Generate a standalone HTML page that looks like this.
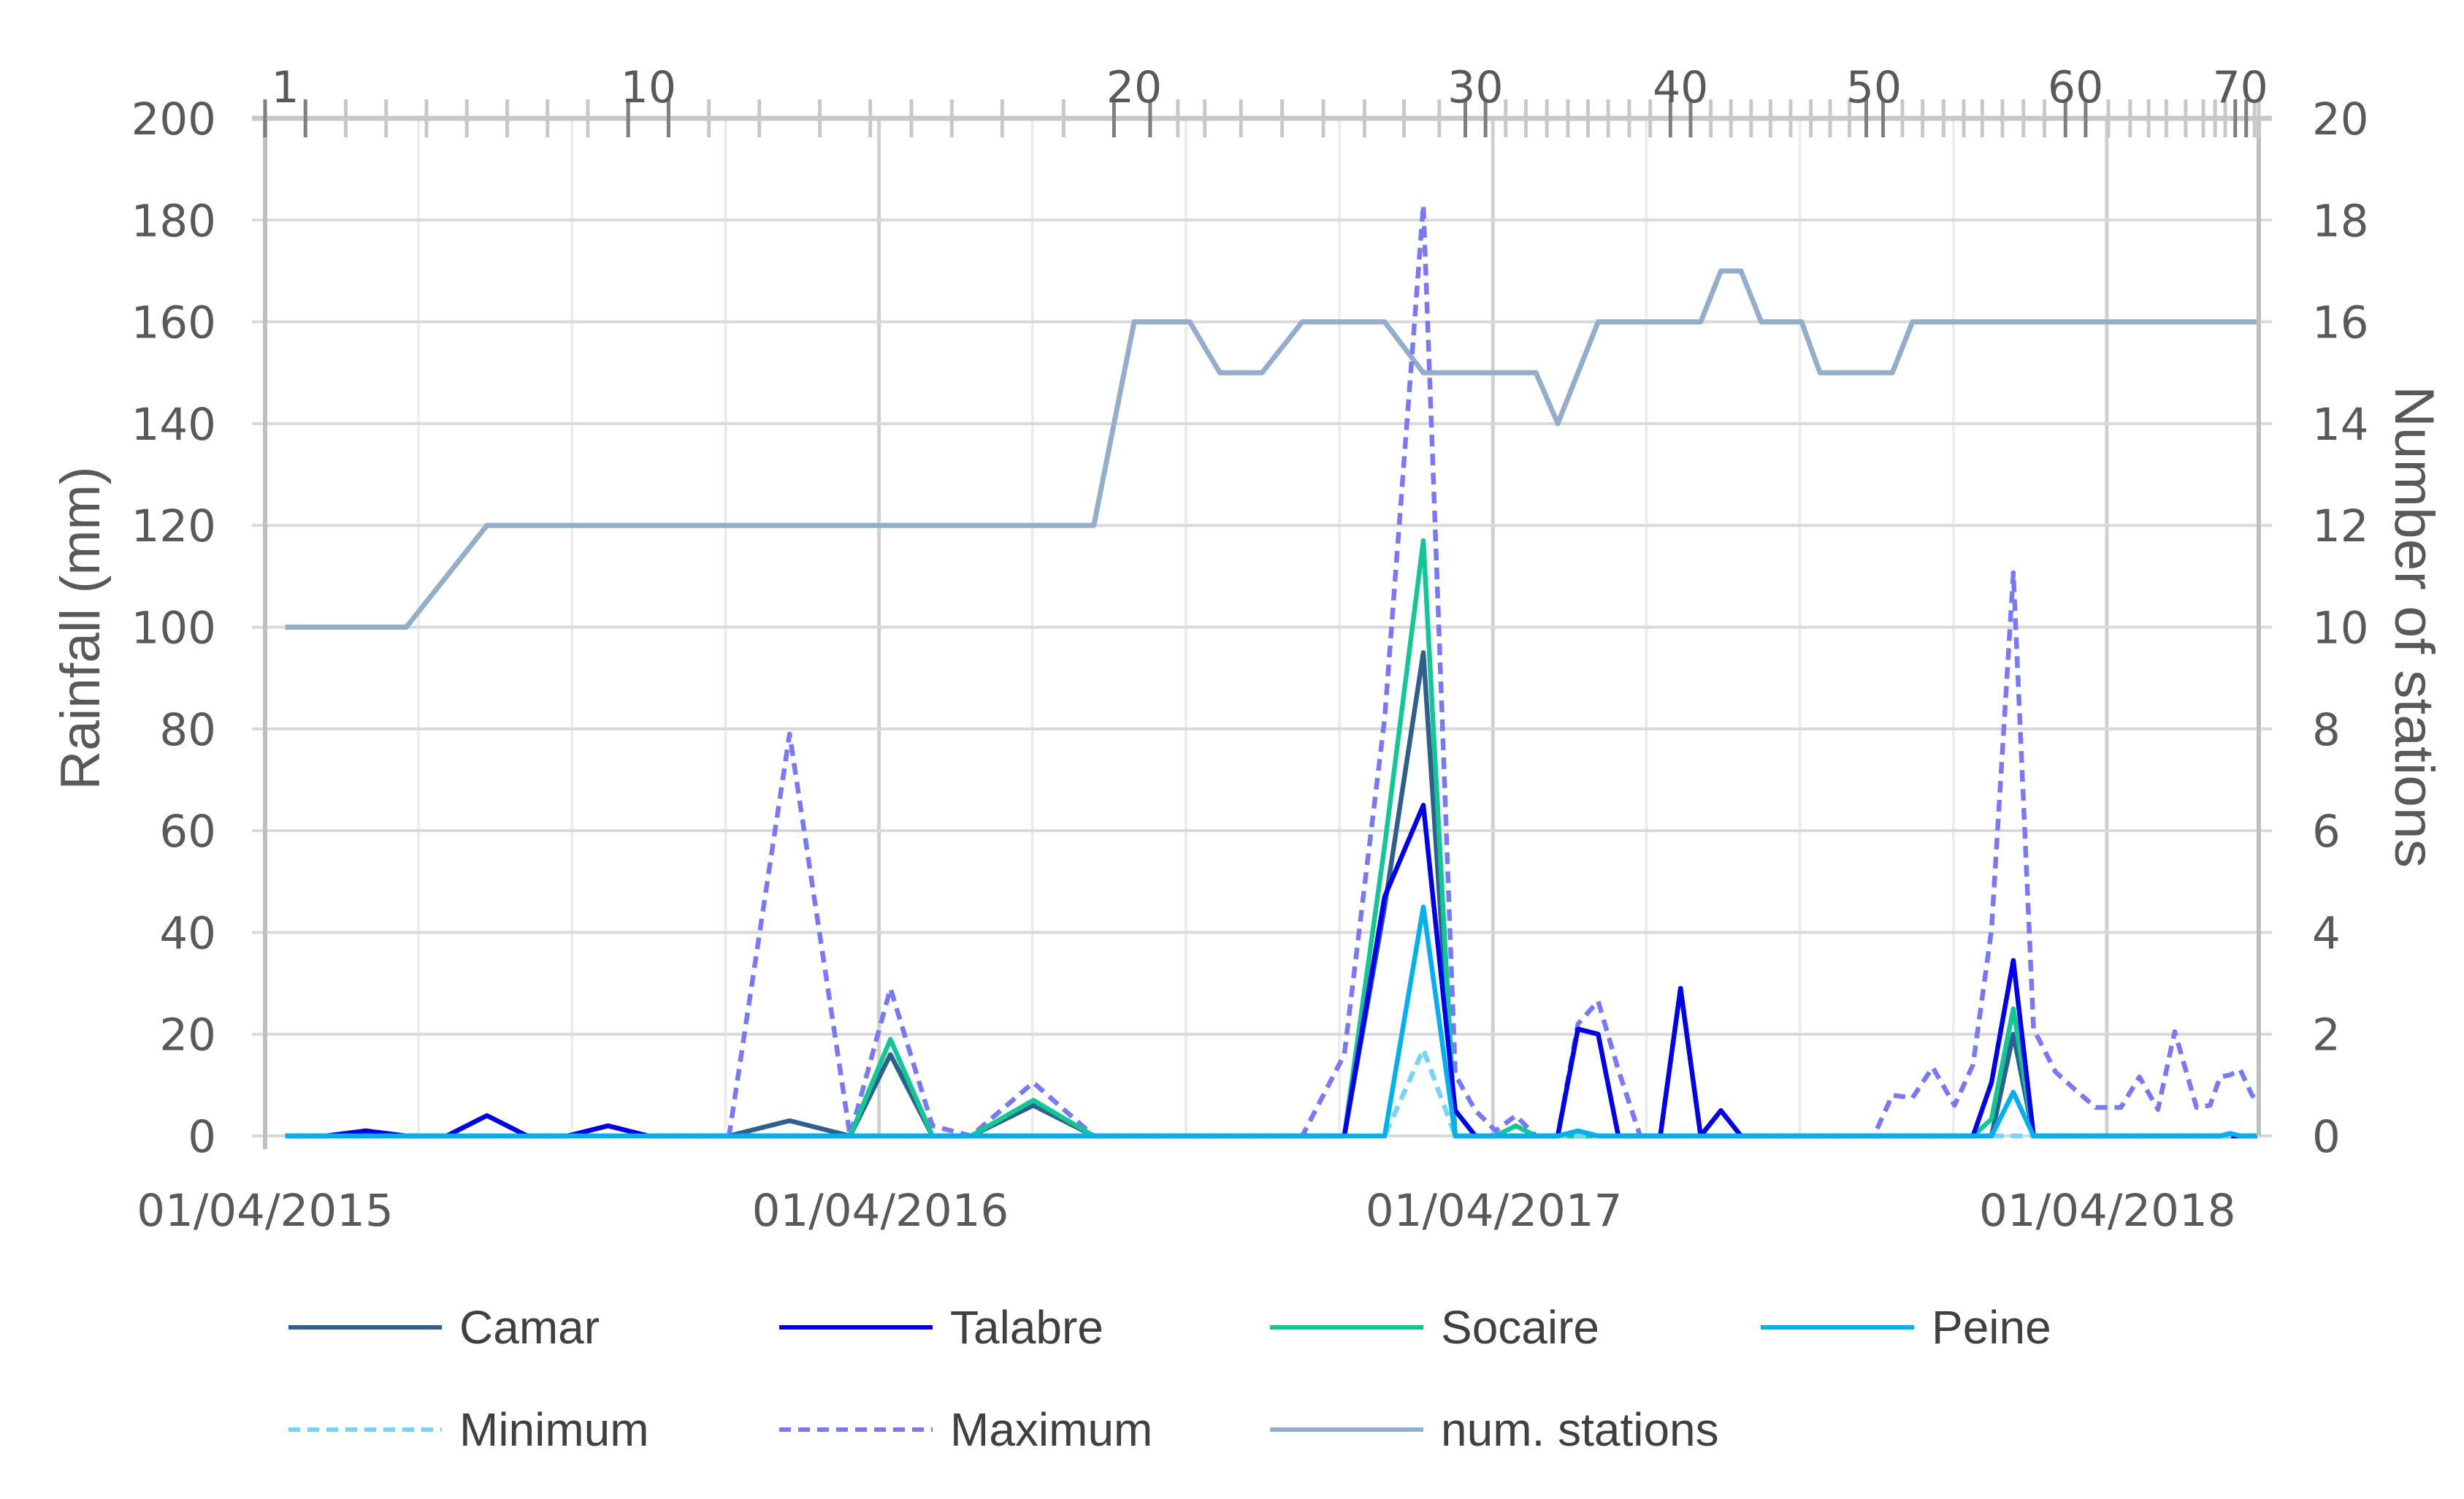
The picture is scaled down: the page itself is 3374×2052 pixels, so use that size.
<!DOCTYPE html>
<html><head><meta charset="utf-8"><title>Rainfall chart</title>
<style>
html,body{margin:0;padding:0;background:#fff;}
svg{display:block;}
text{font-family:"DejaVu Sans","Liberation Sans",sans-serif;fill:#595959;}
.ttl{font-family:"Liberation Sans",sans-serif;}
.leg{font-family:"Liberation Sans",sans-serif;font-size:64px;fill:#404040;}
</style></head>
<body>
<svg id="chart" width="3374" height="2052" viewBox="0 0 3374 2052" xmlns="http://www.w3.org/2000/svg">
<g id="grid"></g>
<g id="series"></g>
<g id="axes"></g>
<text class="ttl" x="0" y="0" font-size="76" text-anchor="middle" textLength="443" lengthAdjust="spacingAndGlyphs" transform="translate(136,860) rotate(-90)">Rainfall (mm)</text>
<text class="ttl" x="0" y="0" font-size="76" text-anchor="middle" textLength="660" lengthAdjust="spacingAndGlyphs" transform="translate(3280,858) rotate(90)">Number of  stations</text>
<g id="legend"></g>
</svg>
<script>
// ---- data ----
const days = [12,36,60,84,108,132,156,180,204,228,252,276,312,348,372,397,420,457,493,517,536,550,568,593,617,642,666,689,708,720,732,744,756,769,781,793,805,818,830,842,854,866,878,890,901,914,925,937,948,957,968,980,992,1005,1016,1027,1040,1052,1065,1077,1089,1104,1115,1126,1136,1149,1157,1163,1169,1175,1182,1185];
const camar   = [0,0,0,0,0,0,0,0,2,0,0,0,3,0,16,0,0,6,0,0,0,0,0,0,0,0,45,95,0,0,0,0,0,0,0,0,0,0,0,0,0,0,0,0,0,0,0,0,0,0,0,0,0,0,0,0,20,0,0,0,0,0,0,0,0,0,0,0,0,0,0,0];
const talabre = [0,0,1,0,0,4,0,0,2,0,0,0,0,0,0,0,0,0,0,0,0,0,0,0,0,0,47,65,5,0,0,0,0,0,21,20,0,0,0,29,0,5,0,0,0,0,0,0,0,0,0,0,0,0,0,10.5,34.5,0,0,0,0,0,0,0,0,0,0,0,0,0,0,0];
const socaire = [0,0,0,0,0,0,0,0,0,0,0,0,0,0,19,0,0,7,0,0,0,0,0,0,0,0,57,117,0,0,0,2,0,0,0,0,0,0,0,0,0,0,0,0,0,0,0,0,0,0,0,0,0,0,0,3.3,25,0,0,0,0,0,0,0,0,0,0,0,0,0,0,0];
const peine   = [0,0,0,0,0,0,0,0,0,0,0,0,0,0,0,0,0,0,0,0,0,0,0,0,0,0,0,45,0,0,0,0,0,0,1,0,0,0,0,0,0,0,0,0,0,0,0,0,0,0,0,0,0,0,0,0,8.6,0,0,0,0,0,0,0,0,0,0,0,0.5,0,0,0];
const minimum = [0,0,0,0,0,0,0,0,0,0,0,0,0,0,0,0,0,0,0,0,0,0,0,0,0,0,0,17,0,0,0,0,0,0,0,0,0,0,0,0,0,0,0,0,0,0,0,0,0,0,0,0,0,0,0,0,0,0,0,0,0,0,0,0,0,0,0,0,0,0,0,0];
const maximum = [0,0,1,0,0,4,0,0,2,0,0,0,79,0,29,2,0,10.5,0,0,0,0,0,0,0,16,82,183,12,5,1,4,0,0,22,26.5,13,0,0,29,0,5,0,0,0,0,0,0,0,0,8,7.5,13.5,6,14,40.5,110.7,21,12.6,9,5.6,5.6,11.6,5.2,20.5,5.6,6,11.6,12,13,8,7];
const stations= [10,10,10,10,11,12,12,12,12,12,12,12,12,12,12,12,12,12,12,16,16,16,15,15,16,16,16,15,15,15,15,15,15,14,15,16,16,16,16,16,16,17,17,16,16,16,15,15,15,15,15,16,16,16,16,16,16,16,16,16,16,16,16,16,16,16,16,16,16,16,16,16];
const yTicks = [0,20,40,60,80,100,120,140,160,180,200];
const y2Ticks = [0,2,4,6,8,10,12,14,16,18,20];
const dateLabels = ["01/04/2015","01/04/2016","01/04/2017","01/04/2018"];
const dateDays = [0,366,731,1096];
const topLabels = [1,10,20,30,40,50,60,70];

// ---- scales ----
const L=363,R=3093,T=162,B=1555,D0=0,D1=1186;
const x = d => L + (d-D0)/(D1-D0)*(R-L);
const y = v => B - v/200*(B-T);
const y2 = v => B - v/20*(B-T);
const NS="http://www.w3.org/2000/svg";
function mk(tag, attrs, parent){const e=document.createElementNS(NS,tag);for(const k in attrs)e.setAttribute(k,attrs[k]);parent.appendChild(e);return e;}
const grid=document.getElementById('grid'), axes=document.getElementById('axes'), ser=document.getElementById('series'), leg=document.getElementById('legend');

for(let q=1;q*91.3<D1-5;q++){
  const d=q*91.3; const major=(q%4===0);
  const g=mk('line',{x1:x(d),x2:x(d),y1:T,y2:B,stroke:major?'#d0d0d0':'#ececec','stroke-width':major?5:4},grid);
  
  
}
yTicks.forEach((v,i)=>{
  const g=mk('line',{x1:L-18,x2:R+18,y1:y(v),y2:y(v),stroke:'#d9d9d9','stroke-width':4},grid);
  
  
  const t=mk('text',{x:296,y:y(v)+22,'font-size':61,'text-anchor':'end'},axes);
  t.textContent=v;
  
  
  const t2=mk('text',{x:3166,y:y2(y2Ticks[i])+22,'font-size':61,'text-anchor':'start'},axes);
  t2.textContent=y2Ticks[i];
  
  
});
let a=mk('line',{x1:L,x2:L,y1:T,y2:B+18,stroke:'#bfbfbf','stroke-width':6},axes);

a=mk('line',{x1:R,x2:R,y1:T,y2:B,stroke:'#bfbfbf','stroke-width':6},axes);

a=mk('line',{x1:L-18,x2:R+18,y1:T,y2:T,stroke:'#c8c8c8','stroke-width':7},axes);

dateLabels.forEach((s,i)=>{
  const t=mk('text',{x:x(dateDays[i]),y:1678,'font-size':61,'text-anchor':'middle'},axes);
  t.textContent=s;
  
  
});
const bounds=[];
for(let i=0;i<=days.length;i++){
  let d;
  if(i===0)d=days[0]-(days[1]-days[0])/2;
  else if(i===days.length)d=Math.min(D1,days[i-1]+(days[i-1]-days[i-2])/2);
  else d=(days[i-1]+days[i])/2;
  bounds.push(d);
}
bounds.forEach((d,i)=>{
  const dark = topLabels.includes(i) || topLabels.includes(i+1);
  const tk=mk('line',{x1:x(d),x2:x(d),y1:T-26,y2:T+26,stroke:dark?'#7f7f7f':'#c8c8c8','stroke-width':5},axes);
  
  
});
topLabels.forEach(n=>{
  const t=mk('text',{x:x(days[n-1]),y:T-22,'font-size':60,'text-anchor':'middle'},axes);
  t.textContent=n;
  
  
});

function line(vals, scale, color, dash, name, w){
  const pts=vals.map((v,i)=>x(days[i]).toFixed(1)+','+scale(v).toFixed(1)).join(' ');
  const p=mk('polyline',{points:pts,fill:'none',stroke:color,'stroke-width':w||6.5,'stroke-linejoin':'round'},ser);
  if(dash)p.setAttribute('stroke-dasharray','16,10');
  
  
}
line(stations,y2,'#93aecb',null,'num-stations-line',7);
line(maximum,y,'#7878ff',true,'maximum-line');
line(camar,y,'#2f5f8f',null,'camar-line');
line(socaire,y,'#10c894',null,'socaire-line');
line(talabre,y,'#0000ee',null,'talabre-line');
line(minimum,y,'#74d6f6',true,'minimum-line');
line(peine,y,'#00b0f0',null,'peine-line');

const legItems=[
 ['Camar','#2f5f8f',false,395,1817],['Talabre','#0000ee',false,1067,1817],['Socaire','#10c894',false,1739,1817],['Peine','#00b0f0',false,2411,1817],
 ['Minimum','#74d6f6',true,395,1957],['Maximum','#7878ff',true,1067,1957],['num. stations','#93aecb',false,1739,1957]];
legItems.forEach(it=>{
  const g=mk('g',{},leg);
  
  
  const l=mk('line',{x1:it[3],x2:it[3]+210,y1:it[4],y2:it[4],stroke:it[1],'stroke-width':6},g);
  if(it[2])l.setAttribute('stroke-dasharray','16,10');
  
  
  const t=mk('text',{x:it[3]+234,y:it[4]+22,class:'leg'},g);
  t.textContent=it[0];
  
  
});
</script>
</body></html>
